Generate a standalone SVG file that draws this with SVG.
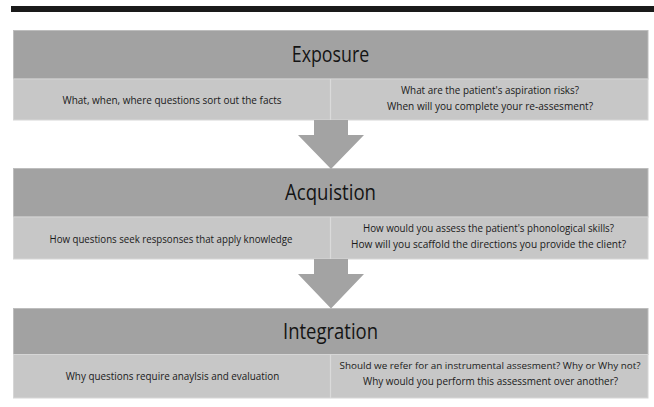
<svg xmlns="http://www.w3.org/2000/svg" width="654" height="407" viewBox="0 0 654 407">
<style>
.hdr{fill:#a2a2a2;stroke:#bdbdbd;stroke-width:1}
.cell{fill:#c7c7c7;stroke:#d6d6d6;stroke-width:1}
.div{stroke:#dadada;stroke-width:1.2}
.title{font-family:"Open Sans","Noto Sans",sans-serif;font-size:21px;fill:#141414;text-anchor:middle}
.t{font-family:"Open Sans","Noto Sans",sans-serif;font-size:10.5px;fill:#1a1a1a;text-anchor:middle}
.arrow{fill:#a3a3a3}
</style>
<rect x="11" y="6" width="643" height="6" fill="#1a1a1a"/>
<g id="exposure">
<rect class="hdr" x="13.5" y="30.5" width="634.5" height="48.5"/>
<rect class="cell" x="13.5" y="79" width="634.5" height="41"/>
<line class="div" x1="330.5" y1="79" x2="330.5" y2="120"/>
<text class="title" x="330.5" y="61.7" textLength="77.5" lengthAdjust="spacingAndGlyphs">Exposure</text>
<text class="t" x="172" y="104" textLength="219" lengthAdjust="spacingAndGlyphs">What, when, where questions sort out the facts</text>
<text class="t" x="490" y="93.5" textLength="178" lengthAdjust="spacingAndGlyphs">What are the patient's aspiration risks?</text>
<text class="t" x="490" y="109.5" textLength="206" lengthAdjust="spacingAndGlyphs">When will you complete your re-assesment?</text>
</g>
<g id="acquisition">
<rect class="hdr" x="13.5" y="168.5" width="634.5" height="48.5"/>
<rect class="cell" x="13.5" y="217" width="634.5" height="42"/>
<line class="div" x1="330.5" y1="217" x2="330.5" y2="259"/>
<text class="title" x="330.5" y="199.7" textLength="91" lengthAdjust="spacingAndGlyphs">Acquistion</text>
<text class="t" x="171" y="242.5" textLength="243" lengthAdjust="spacingAndGlyphs">How questions seek respsonses that apply knowledge</text>
<text class="t" x="488.5" y="231.5" textLength="251" lengthAdjust="spacingAndGlyphs">How would you assess the patient's phonological skills?</text>
<text class="t" x="488.5" y="247.5" textLength="275" lengthAdjust="spacingAndGlyphs">How will you scaffold the directions you provide the client?</text>
</g>
<g id="integration">
<rect class="hdr" x="13.5" y="308.5" width="634.5" height="46"/>
<rect class="cell" x="13.5" y="354.5" width="634.5" height="43.5"/>
<line class="div" x1="330.5" y1="354.5" x2="330.5" y2="398"/>
<text class="title" x="330.5" y="339" textLength="95" lengthAdjust="spacingAndGlyphs">Integration</text>
<text class="t" x="172.5" y="380" textLength="213.5" lengthAdjust="spacingAndGlyphs">Why questions require anaylsis and evaluation</text>
<text class="t" x="490" y="368.5" style="font-size:9.8px" textLength="301" lengthAdjust="spacingAndGlyphs">Should we refer for an instrumental assesment? Why or Why not?</text>
<text class="t" x="490.5" y="385" textLength="255" lengthAdjust="spacingAndGlyphs">Why would you perform this assessment over another?</text>
</g>
<g id="connectors">
<polygon class="arrow" points="314,120 348,120 348,135 364,135 331,169 298,135 314,135"/>
<polygon class="arrow" points="314,259 348,259 348,274 364,274 331,308.5 298,274 314,274"/>
</g>
</svg>
